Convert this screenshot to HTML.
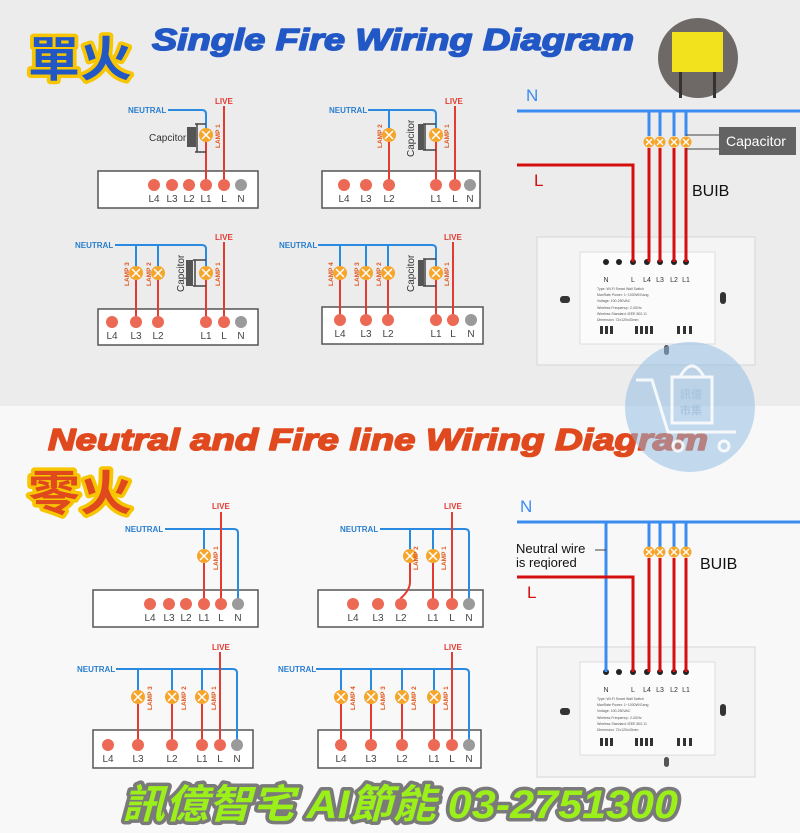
<!DOCTYPE html>
<html><head><meta charset="utf-8"><style>
html,body{margin:0;padding:0;background:#fff}
svg{display:block}
text{font-family:"Liberation Sans","Noto Sans CJK TC",sans-serif}
</style></head><body>
<svg width="800" height="833" viewBox="0 0 800 833" xmlns="http://www.w3.org/2000/svg">
<defs>
<g id="lamp"><circle r="7" fill="#f4a52a"/><path d="M-4,-4L4,4M4,-4L-4,4" stroke="#fff" stroke-width="1.5"/></g>
<g id="lampS"><circle r="5.5" fill="#f4a52a"/><path d="M-3,-3L3,3M3,-3L-3,3" stroke="#fff" stroke-width="1.3"/></g>
<g id="dot"><circle r="6" fill="#ec6a55"/></g>
<g id="ndot"><circle r="6" fill="#9a9a9a"/></g>
</defs>
<rect x="0" y="0" width="800" height="406" fill="#ececec"/>
<rect x="0" y="406" width="800" height="427" fill="#f8f8f8"/>

<!-- Titles -->
<text x="28" y="76" font-size="48" font-weight="bold" fill="#2257c6" stroke="#f7c600" stroke-width="7" paint-order="stroke" stroke-linejoin="round" textLength="104" lengthAdjust="spacingAndGlyphs">單火</text>
<text x="152" y="50" font-size="31" font-weight="bold" font-style="italic" fill="#2257c6" stroke="#2257c6" stroke-width="1.6" stroke-linejoin="round" textLength="482" lengthAdjust="spacingAndGlyphs">Single Fire Wiring Diagram</text>
<text x="48" y="450" font-size="31" font-weight="bold" font-style="italic" fill="#e0481e" stroke="#e0481e" stroke-width="1.6" stroke-linejoin="round" textLength="660" lengthAdjust="spacingAndGlyphs">Neutral and Fire line Wiring Diagram</text>
<text x="28" y="510" font-size="48" font-weight="bold" fill="#e0481e" stroke="#f7c600" stroke-width="7" paint-order="stroke" stroke-linejoin="round" textLength="104" lengthAdjust="spacingAndGlyphs">零火</text>

<!-- capacitor photo -->
<circle cx="698" cy="58" r="40" fill="#6e6866"/>
<rect x="672" y="32" width="51" height="40" fill="#f1e21d"/>
<rect x="679" y="72" width="3" height="26" fill="#333"/><rect x="713" y="72" width="3" height="26" fill="#333"/>

<g fill="none" stroke-width="2">
<rect x="98" y="171" width="160" height="37" fill="#fff" stroke="#555" stroke-width="1.5"/>
<path d="M168,110H202Q206,110 206,114V128" stroke="#2a8ae0"/>
<path d="M206,142V185M224,106V185" stroke="#e33b32"/>
<path d="M195,124H206M195,152H206M197,124V152" stroke="#444" stroke-width="1.5"/>
<rect x="322" y="171" width="158" height="37" fill="#fff" stroke="#555" stroke-width="1.5"/>
<path d="M368,110H432Q436,110 436,114V128M389,110V128" stroke="#2a8ae0"/>
<path d="M389,142V185M436,142V185M455,106V185" stroke="#e33b32"/>
<path d="M423,124H436M423,150H436M425,124V150" stroke="#444" stroke-width="1.5"/>
<rect x="98" y="309" width="160" height="36" fill="#fff" stroke="#555" stroke-width="1.5"/>
<path d="M115,245H202Q206,245 206,249V266M136,245V266M158,245V266" stroke="#2a8ae0"/>
<path d="M136,280V322M158,280V322M206,280V322M224,242V322" stroke="#e33b32"/>
<path d="M193,260H206M193,286H206M195,260V286" stroke="#444" stroke-width="1.5"/>
<rect x="322" y="307" width="161" height="37" fill="#fff" stroke="#555" stroke-width="1.5"/>
<path d="M318,245H432Q436,245 436,249V266M340,245V266M366,245V266M388,245V266" stroke="#2a8ae0"/>
<path d="M340,280V320M366,280V320M388,280V320M436,280V320M453,242V320" stroke="#e33b32"/>
<path d="M423,259H436M423,286H436M425,259V286" stroke="#444" stroke-width="1.5"/>

<rect x="93" y="590" width="165" height="37" fill="#fff" stroke="#555" stroke-width="1.5"/>
<path d="M165,529H234Q238,529 238,533V604M204,529V549" stroke="#2a8ae0"/>
<path d="M204,563V604M221,512V604" stroke="#e33b32"/>
<rect x="318" y="590" width="165" height="37" fill="#fff" stroke="#555" stroke-width="1.5"/>
<path d="M380,529H465Q469,529 469,533V604M410,529V549M433,529V549" stroke="#2a8ae0"/>
<path d="M410,563V582Q410,590 401,598V604M433,563V604M452,512V604" stroke="#e33b32"/>
<rect x="93" y="730" width="160" height="38" fill="#fff" stroke="#555" stroke-width="1.5"/>
<path d="M116,669H233Q237,669 237,673V745M138,669V690M172,669V690M202,669V690" stroke="#2a8ae0"/>
<path d="M138,704V745M172,704V745M202,704V745M220,652V745" stroke="#e33b32"/>
<rect x="318" y="730" width="163" height="38" fill="#fff" stroke="#555" stroke-width="1.5"/>
<path d="M316,669H465Q469,669 469,673V745M341,669V690M371,669V690M402,669V690M434,669V690" stroke="#2a8ae0"/>
<path d="M341,704V745M371,704V745M402,704V745M434,704V745M452,652V745" stroke="#e33b32"/>
</g>

<rect x="187" y="127" width="9" height="20" fill="#555"/>
<rect x="418" y="124" width="6" height="26" fill="#555"/>
<rect x="186" y="260" width="7" height="26" fill="#555"/>
<rect x="418" y="260" width="6" height="26" fill="#555"/>

<use href="#lamp" x="206" y="135"/>
<use href="#lamp" x="389" y="135"/><use href="#lamp" x="436" y="135"/>
<use href="#lamp" x="136" y="273"/><use href="#lamp" x="158" y="273"/><use href="#lamp" x="206" y="273"/>
<use href="#lamp" x="340" y="273"/><use href="#lamp" x="366" y="273"/><use href="#lamp" x="388" y="273"/><use href="#lamp" x="436" y="273"/>
<use href="#lamp" x="204" y="556"/>
<use href="#lamp" x="410" y="556"/><use href="#lamp" x="433" y="556"/>
<use href="#lamp" x="138" y="697"/><use href="#lamp" x="172" y="697"/><use href="#lamp" x="202" y="697"/>
<use href="#lamp" x="341" y="697"/><use href="#lamp" x="371" y="697"/><use href="#lamp" x="402" y="697"/><use href="#lamp" x="434" y="697"/>

<g>
<use href="#dot" x="154" y="185"/><use href="#dot" x="172" y="185"/><use href="#dot" x="189" y="185"/><use href="#dot" x="206" y="185"/><use href="#dot" x="224" y="185"/><use href="#ndot" x="241" y="185"/>
<use href="#dot" x="344" y="185"/><use href="#dot" x="366" y="185"/><use href="#dot" x="389" y="185"/><use href="#dot" x="436" y="185"/><use href="#dot" x="455" y="185"/><use href="#ndot" x="470" y="185"/>
<use href="#dot" x="112" y="322"/><use href="#dot" x="136" y="322"/><use href="#dot" x="158" y="322"/><use href="#dot" x="206" y="322"/><use href="#dot" x="224" y="322"/><use href="#ndot" x="241" y="322"/>
<use href="#dot" x="340" y="320"/><use href="#dot" x="366" y="320"/><use href="#dot" x="388" y="320"/><use href="#dot" x="436" y="320"/><use href="#dot" x="453" y="320"/><use href="#ndot" x="471" y="320"/>
<use href="#dot" x="150" y="604"/><use href="#dot" x="169" y="604"/><use href="#dot" x="186" y="604"/><use href="#dot" x="204" y="604"/><use href="#dot" x="221" y="604"/><use href="#ndot" x="238" y="604"/>
<use href="#dot" x="353" y="604"/><use href="#dot" x="378" y="604"/><use href="#dot" x="401" y="604"/><use href="#dot" x="433" y="604"/><use href="#dot" x="452" y="604"/><use href="#ndot" x="469" y="604"/>
<use href="#dot" x="108" y="745"/><use href="#dot" x="138" y="745"/><use href="#dot" x="172" y="745"/><use href="#dot" x="202" y="745"/><use href="#dot" x="220" y="745"/><use href="#ndot" x="237" y="745"/>
<use href="#dot" x="341" y="745"/><use href="#dot" x="371" y="745"/><use href="#dot" x="402" y="745"/><use href="#dot" x="434" y="745"/><use href="#dot" x="452" y="745"/><use href="#ndot" x="469" y="745"/>
</g>

<g font-size="10" fill="#444" text-anchor="middle">
<text x="154" y="202">L4</text><text x="172" y="202">L3</text><text x="189" y="202">L2</text><text x="206" y="202">L1</text><text x="224" y="202">L</text><text x="241" y="202">N</text>
<text x="344" y="202">L4</text><text x="366" y="202">L3</text><text x="389" y="202">L2</text><text x="436" y="202">L1</text><text x="455" y="202">L</text><text x="470" y="202">N</text>
<text x="112" y="339">L4</text><text x="136" y="339">L3</text><text x="158" y="339">L2</text><text x="206" y="339">L1</text><text x="224" y="339">L</text><text x="241" y="339">N</text>
<text x="340" y="337">L4</text><text x="366" y="337">L3</text><text x="388" y="337">L2</text><text x="436" y="337">L1</text><text x="453" y="337">L</text><text x="471" y="337">N</text>
<text x="150" y="621">L4</text><text x="169" y="621">L3</text><text x="186" y="621">L2</text><text x="204" y="621">L1</text><text x="221" y="621">L</text><text x="238" y="621">N</text>
<text x="353" y="621">L4</text><text x="378" y="621">L3</text><text x="401" y="621">L2</text><text x="433" y="621">L1</text><text x="452" y="621">L</text><text x="469" y="621">N</text>
<text x="108" y="762">L4</text><text x="138" y="762">L3</text><text x="172" y="762">L2</text><text x="202" y="762">L1</text><text x="220" y="762">L</text><text x="237" y="762">N</text>
<text x="341" y="762">L4</text><text x="371" y="762">L3</text><text x="402" y="762">L2</text><text x="434" y="762">L1</text><text x="452" y="762">L</text><text x="469" y="762">N</text>
</g>

<g font-size="8" font-weight="bold" fill="#2a7fd0">
<text x="128" y="113">NEUTRAL</text><text x="329" y="113">NEUTRAL</text>
<text x="75" y="248">NEUTRAL</text><text x="279" y="248">NEUTRAL</text>
<text x="125" y="532">NEUTRAL</text><text x="340" y="532">NEUTRAL</text>
<text x="77" y="672">NEUTRAL</text><text x="278" y="672">NEUTRAL</text>
</g>
<g font-size="8" font-weight="bold" fill="#e33b32">
<text x="215" y="104">LIVE</text><text x="445" y="104">LIVE</text>
<text x="215" y="240">LIVE</text><text x="444" y="240">LIVE</text>
<text x="212" y="509">LIVE</text><text x="444" y="509">LIVE</text>
<text x="212" y="650">LIVE</text><text x="444" y="650">LIVE</text>
</g>
<g font-size="10" fill="#333">
<text x="149" y="141">Capcitor</text>
<text transform="translate(414,157) rotate(-90)">Capcitor</text>
<text transform="translate(184,292) rotate(-90)">Capcitor</text>
<text transform="translate(414,292) rotate(-90)">Capcitor</text>
</g>
<g font-size="6.5" font-weight="bold" fill="#e0581e">
<text transform="translate(220,148) rotate(-90)">LAMP 1</text>
<text transform="translate(382,148) rotate(-90)">LAMP 2</text><text transform="translate(449,148) rotate(-90)">LAMP 1</text>
<text transform="translate(129,286) rotate(-90)">LAMP 3</text><text transform="translate(151,286) rotate(-90)">LAMP 2</text><text transform="translate(220,286) rotate(-90)">LAMP 1</text>
<text transform="translate(333,286) rotate(-90)">LAMP 4</text><text transform="translate(359,286) rotate(-90)">LAMP 3</text><text transform="translate(381,286) rotate(-90)">LAMP 2</text><text transform="translate(449,286) rotate(-90)">LAMP 1</text>
<text transform="translate(218,570) rotate(-90)">LAMP 1</text>
<text transform="translate(418,570) rotate(-90)">LAMP 2</text><text transform="translate(446,570) rotate(-90)">LAMP 1</text>
<text transform="translate(152,710) rotate(-90)">LAMP 3</text><text transform="translate(186,710) rotate(-90)">LAMP 2</text><text transform="translate(216,710) rotate(-90)">LAMP 1</text>
<text transform="translate(355,710) rotate(-90)">LAMP 4</text><text transform="translate(385,710) rotate(-90)">LAMP 3</text><text transform="translate(416,710) rotate(-90)">LAMP 2</text><text transform="translate(448,710) rotate(-90)">LAMP 1</text>
</g>

<rect x="537" y="237" width="218" height="128" fill="#f4f4f4" stroke="#d6d6d6"/>
<rect x="580" y="252" width="135" height="92" fill="#fbfbfb" stroke="#ddd"/>
<rect x="560" y="296" width="10" height="7" rx="3" fill="#333"/><rect x="720" y="292" width="6" height="12" rx="3" fill="#333"/>
<rect x="664" y="345" width="5" height="10" rx="2.5" fill="#555"/>
<g fill="#333"><rect x="600" y="326" width="3" height="8"/><rect x="605" y="326" width="3" height="8"/><rect x="610" y="326" width="3" height="8"/><rect x="635" y="326" width="3" height="8"/><rect x="640" y="326" width="3" height="8"/><rect x="645" y="326" width="3" height="8"/><rect x="650" y="326" width="3" height="8"/><rect x="677" y="326" width="3" height="8"/><rect x="683" y="326" width="3" height="8"/><rect x="689" y="326" width="3" height="8"/></g>
<g fill="#222"><circle cx="606" cy="262" r="3"/><circle cx="619" cy="262" r="3"/><circle cx="633" cy="262" r="3"/><circle cx="647" cy="262" r="3"/><circle cx="660" cy="262" r="3"/><circle cx="674" cy="262" r="3"/><circle cx="686" cy="262" r="3"/></g>
<g font-size="7" fill="#333" text-anchor="middle"><text x="606" y="282">N</text><text x="633" y="282">L</text><text x="647" y="282">L4</text><text x="660" y="282">L3</text><text x="674" y="282">L2</text><text x="686" y="282">L1</text></g>
<g font-size="3.5" fill="#555"><text x="597" y="290">Type: Wi-Fi Smart Wall Switch</text><text x="597" y="296">MaxRate Power: 1~1000W/Gang</text><text x="597" y="302">Voltage: 100-250VAC</text><text x="597" y="309">Wireless Frequency: 2.4GHz</text><text x="597" y="315">Wireless Standard: IEEE 802.11</text><text x="597" y="321">Dimension: 72x120x43mm</text></g>

<g fill="none" stroke-width="3">
<path d="M517,111H800" stroke="#3b8cf0"/>
<path d="M649,111V136M660,111V136M674,111V136M686,111V136" stroke="#3b8cf0"/>
<path d="M649,148V262M660,148V262M674,148V262M686,148V262" stroke="#d40f0f"/>
<path d="M517,165H633V262" stroke="#d40f0f"/>
</g>
<path d="M686,135H719M686,149H719" stroke="#444" stroke-width="1"/>
<use href="#lampS" x="649" y="142"/><use href="#lampS" x="660" y="142"/><use href="#lampS" x="674" y="142"/><use href="#lampS" x="686" y="142"/>
<rect x="719" y="127" width="77" height="28" fill="#636363"/>
<text x="726" y="146" font-size="14" fill="#fff">Capacitor</text>
<text x="526" y="101" font-size="17" fill="#3b8cf0">N</text>
<text x="534" y="186" font-size="17" fill="#d40f0f">L</text>
<text x="692" y="196" font-size="16" fill="#111">BUIB</text>

<circle cx="690" cy="407" r="65" fill="rgba(140,185,225,0.5)"/>
<g fill="none" stroke="#fff" stroke-width="3" opacity="0.85"><path d="M636,380H652L668,432H736"/><rect x="672" y="377" width="40" height="46"/><path d="M680,377Q692,355 704,377"/><circle cx="678" cy="446" r="5"/><circle cx="724" cy="446" r="5"/></g>
<text x="680" y="398" font-size="11" font-weight="bold" fill="#a9c5df">訊億</text>
<text x="680" y="414" font-size="11" font-weight="bold" fill="#a9c5df">市集</text>

<rect x="537" y="647" width="218" height="130" fill="#f4f4f4" stroke="#d6d6d6"/>
<rect x="580" y="662" width="135" height="93" fill="#fbfbfb" stroke="#ddd"/>
<rect x="560" y="708" width="10" height="7" rx="3" fill="#333"/><rect x="720" y="704" width="6" height="12" rx="3" fill="#333"/>
<rect x="664" y="757" width="5" height="10" rx="2.5" fill="#555"/>
<g fill="#333"><rect x="600" y="738" width="3" height="8"/><rect x="605" y="738" width="3" height="8"/><rect x="610" y="738" width="3" height="8"/><rect x="635" y="738" width="3" height="8"/><rect x="640" y="738" width="3" height="8"/><rect x="645" y="738" width="3" height="8"/><rect x="650" y="738" width="3" height="8"/><rect x="677" y="738" width="3" height="8"/><rect x="683" y="738" width="3" height="8"/><rect x="689" y="738" width="3" height="8"/></g>
<g fill="#222"><circle cx="606" cy="672" r="3"/><circle cx="619" cy="672" r="3"/><circle cx="633" cy="672" r="3"/><circle cx="647" cy="672" r="3"/><circle cx="660" cy="672" r="3"/><circle cx="674" cy="672" r="3"/><circle cx="686" cy="672" r="3"/></g>
<g font-size="7" fill="#333" text-anchor="middle"><text x="606" y="692">N</text><text x="633" y="692">L</text><text x="647" y="692">L4</text><text x="660" y="692">L3</text><text x="674" y="692">L2</text><text x="686" y="692">L1</text></g>
<g font-size="3.5" fill="#555"><text x="597" y="700">Type: Wi-Fi Smart Wall Switch</text><text x="597" y="706">MaxRate Power: 1~1000W/Gang</text><text x="597" y="712">Voltage: 100-250VAC</text><text x="597" y="719">Wireless Frequency: 2.4GHz</text><text x="597" y="725">Wireless Standard: IEEE 802.11</text><text x="597" y="731">Dimension: 72x120x43mm</text></g>
<g fill="none" stroke-width="3">
<path d="M517,522H800" stroke="#3b8cf0"/>
<path d="M606,522V672" stroke="#3b8cf0"/>
<path d="M649,522V547M660,522V547M674,522V547M686,522V547" stroke="#3b8cf0"/>
<path d="M649,558V672M660,558V672M674,558V672M686,558V672" stroke="#d40f0f"/>
<path d="M517,577H633V672" stroke="#d40f0f"/>
</g>
<path d="M595,550H606" stroke="#444" stroke-width="1"/>
<use href="#lampS" x="649" y="552"/><use href="#lampS" x="660" y="552"/><use href="#lampS" x="674" y="552"/><use href="#lampS" x="686" y="552"/>
<text x="520" y="512" font-size="17" fill="#3b8cf0">N</text>
<text x="527" y="598" font-size="17" fill="#d40f0f">L</text>
<text x="516" y="553" font-size="13" fill="#111">Neutral wire</text>
<text x="516" y="567" font-size="13" fill="#111">is reqiored</text>
<text x="700" y="569" font-size="16" fill="#111">BUIB</text>

<text x="122" y="818" font-size="40" font-weight="bold" font-style="italic" fill="#9cf01a" stroke="#7a7a7a" stroke-width="7" paint-order="stroke" stroke-linejoin="round" textLength="556" lengthAdjust="spacingAndGlyphs">訊億智宅 AI節能 03-2751300</text>
</svg>
</body></html>
